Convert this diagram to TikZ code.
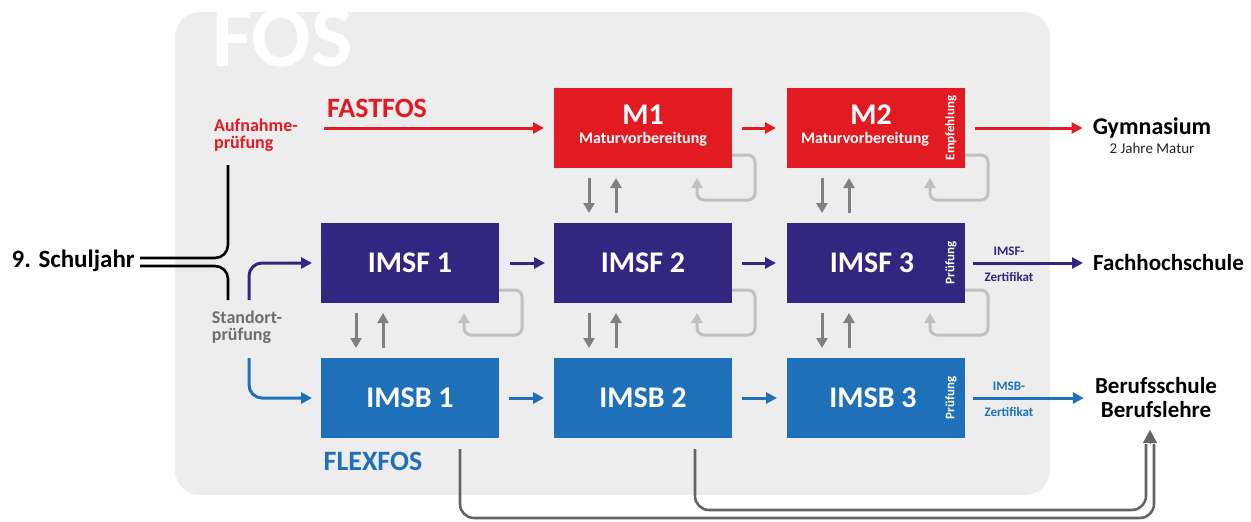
\documentclass[tikz,border=0pt]{standalone}
\usepackage{fontspec}
\setmainfont{Carlito}
\usetikzlibrary{arrows.meta,calc}
\definecolor{fosred}{RGB}{226,26,34}
\definecolor{fospurple}{RGB}{50,38,128}
\definecolor{fosblue}{RGB}{30,112,185}
\definecolor{fosbg}{RGB}{237,237,237}
\definecolor{darrow}{RGB}{128,128,128}
\definecolor{larrow}{RGB}{192,192,192}
\definecolor{bline}{RGB}{100,100,100}
\definecolor{labgray}{RGB}{110,110,110}
\newcommand\myfs[1]{\fontsize{#1}{#1}\selectfont}
\begin{document}
\begin{tikzpicture}[x=1pt,y=-1pt,
  box/.style={minimum width=178pt,minimum height=80pt,inner sep=0pt,outer sep=0pt},
  boxtxt/.style={text=white,font=\myfs{30}\bfseries,inner sep=0pt},
  subtxt/.style={text=white,font=\myfs{16}\bfseries,inner sep=0pt},
  rottxt/.style={text=white,font=\myfs{13}\bfseries,rotate=90,inner sep=0pt},
  certtxt/.style={font=\myfs{13}\bfseries,inner sep=0pt},
  goaltxt/.style={font=\myfs{23}\bfseries,inner sep=0pt,text=black},
  tip/.style={-{Triangle[length=11pt,width=11pt]}},
  mainarrow/.style={tip,line width=3pt},
  vert/.style={line width=3pt,darrow,-{Triangle[length=10pt,width=11pt]}},
  loopline/.style={line width=3pt,larrow,rounded corners=7pt,-{Triangle[length=10pt,width=11pt]}},
  blk/.style={line width=2.6pt,black,rounded corners=13pt},
  botline/.style={line width=2.6pt,bline,rounded corners=14pt}
]
\useasboundingbox (0,0) rectangle (1251,522);
\fill[fosbg,rounded corners=25pt] (175,12) rectangle (1050,495);
\begin{scope}
\clip[rounded corners=25pt] (175,12) rectangle (1050,495);
\node[anchor=base west,inner sep=0pt,text=white,font=\myfs{88}\bfseries] (fos) at (212,66) {FOS};
\end{scope}

% boxes
\node[box,fill=fosred] (m1) at (643,128) {};
\node[box,fill=fosred] (m2) at (876,128) {};
\node[box,fill=fospurple] (f1) at (410,263) {};
\node[box,fill=fospurple] (f2) at (643,263) {};
\node[box,fill=fospurple] (f3) at (876,263) {};
\node[box,fill=fosblue] (b1) at (410,398) {};
\node[box,fill=fosblue] (b2) at (643,398) {};
\node[box,fill=fosblue] (b3) at (876,398) {};

% box texts
\node[boxtxt] (m1t) at (643,115) {M1};
\node[subtxt] (m1s) at (643,139) {Maturvorbereitung};
\node[boxtxt] (m2t) at (871,115) {M2};
\node[subtxt] (m2s) at (865,139) {Maturvorbereitung};
\node[rottxt] (m2r) at (951,128) {Empfehlung};
\node[boxtxt] (f1t) at (410,263) {IMSF 1};
\node[boxtxt] (f2t) at (643,263) {IMSF 2};
\node[boxtxt] (f3t) at (872,263) {IMSF 3};
\node[rottxt] (f3r) at (951,263) {Prüfung};
\node[boxtxt] (b1t) at (410,398) {IMSB 1};
\node[boxtxt] (b2t) at (643,398) {IMSB 2};
\node[boxtxt] (b3t) at (873,398) {IMSB 3};
\node[rottxt] (b3r) at (951,398) {Prüfung};

% labels
\node[inner sep=0pt,text=fosred,font=\myfs{28}\bfseries] (fast) at (377,108) {FASTFOS};
\node[inner sep=0pt,text=fosblue,font=\myfs{28}\bfseries] (flex) at (373,461) {FLEXFOS};
\node[inner sep=0pt,text=fosred,font=\myfs{18}\bfseries,align=left] (aufn) at (256,135) {Aufnahme-\\[-1pt]prüfung};
\node[inner sep=0pt,text=labgray,font=\myfs{18}\bfseries,align=left] (stand) at (247,327) {Standort-\\[-1pt]prüfung};
\node[anchor=east,inner sep=0pt,font=\myfs{25}\bfseries] (sj) at (135,261) {9. Schuljahr};

% goals
\node[goaltxt,font=\myfs{24}\bfseries] (gym) at (1152,128) {Gymnasium};
\node[inner sep=0pt,font=\myfs{15},text=black!85] (gymsub) at (1152,148) {2 Jahre Matur};
\node[goaltxt,anchor=west] (fh) at (1093,263) {Fachhochschule};
\node[goaltxt,align=center,font=\myfs{23}\bfseries] (bs) at (1156,398) {Berufsschule\\[1pt]Berufslehre};

% certificate labels
\node[certtxt,text=fospurple] (fc1) at (1009,251) {IMSF-};
\node[certtxt,text=fospurple] (fc2) at (1009,277) {Zertifikat};
\node[certtxt,text=fosblue] (bc1) at (1009,386) {IMSB-};
\node[certtxt,text=fosblue] (bc2) at (1009,412) {Zertifikat};

% left lines
\coordinate (aup) at (228,165);
\coordinate (sdn) at (228,300);
\draw[blk] ($(sj.east)+(5,-3)$) -| (aup);
\draw[blk] ($(sj.east)+(5,5)$) -| (sdn);
\coordinate (pst) at (249,300);
\coordinate (bst) at (249,358);
\draw[mainarrow,fospurple,rounded corners=13pt] (pst) |- ([xshift=-9pt]f1.west);
\draw[mainarrow,fosblue,rounded corners=13pt] (bst) |- ([xshift=-9pt]b1.west);

% horizontal arrows
\coordinate (fstart) at (324,128);
\draw[mainarrow,fosred] (fstart) -- ([xshift=-10pt]m1.west);
\draw[mainarrow,fosred] ([xshift=10pt]m1.east) -- ([xshift=-11pt]m2.west);
\draw[mainarrow,fosred] ([xshift=10pt]m2.east) -- ([xshift=-10pt]gym.west);
\draw[mainarrow,fospurple] ([xshift=11pt]f1.east) -- ([xshift=-9pt]f2.west);
\draw[mainarrow,fospurple] ([xshift=10pt]f2.east) -- ([xshift=-11pt]f3.west);
\draw[mainarrow,fospurple] ([xshift=8pt]f3.east) -- ([xshift=-10pt]fh.west);
\draw[mainarrow,fosblue] ([xshift=10pt]b1.east) -- ([xshift=-10pt]b2.west);
\draw[mainarrow,fosblue] ([xshift=10pt]b2.east) -- ([xshift=-10pt]b3.west);
\draw[mainarrow,fosblue] ([xshift=8pt]b3.east) -- ([xshift=-11pt]bs.west);

% vertical arrows
\foreach \u/\l in {m1/f2,m2/f3,f1/b1,f2/b2,f3/b3}{
  \draw[vert] ($(\u.south)+(-54,10)$) -- ($(\l.north)+(-54,-10)$);
  \draw[vert] ($(\l.north)+(-27,-10)$) -- ($(\u.south)+(-27,10)$);
}

% loops
\foreach \b in {m1,m2,f1,f2,f3}{
  \draw[loopline] ($(\b.south east)+(0,-13)$) -| ($(\b.south east)+(23,32)$) -| ($(\b.south east)+(-35,10)$);
}

% bottom lines
\coordinate (btip) at (1150,430);
\draw[botline] ($(b1.south)+(50,11)$) |- (1154,518) -- (1154,444);
\draw[botline] ($(b2.south)+(52,11)$) |- (1146,510) -- (1146,444);
\draw[bline,line width=0.5pt,-{Triangle[length=13pt,width=14pt]}] (1150,444) -- (btip);
\end{tikzpicture}
\end{document}
